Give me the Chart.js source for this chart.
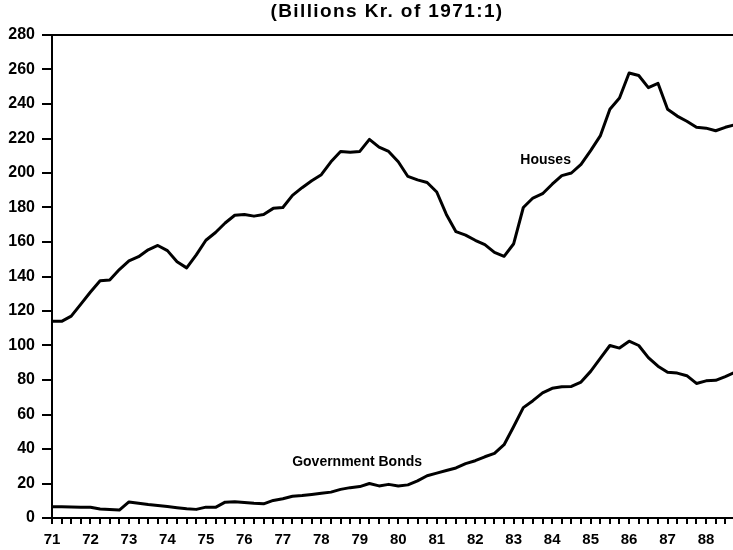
<!DOCTYPE html>
<html>
<head>
<meta charset="utf-8">
<script src="https://cdn.jsdelivr.net/npm/chart.js@4/dist/chart.umd.min.js"></script>
<style>
  body { margin: 0; background: #fff; }
  #wrap { width: 733px; height: 550px; }
</style>
</head>
<body>
<div id="wrap"><canvas id="myChart" width="733" height="550"></canvas></div>
<script>
// quarterly series, first point is 1971:1
const firstYear = 71;
const houses = [
  114, 114, 117, 124, 131, 137.5, 138, 144,
  149, 151.5, 155.5, 158, 155, 148.5, 145, 152.5,
  161, 165.5, 171, 175.5, 176, 175, 176, 179.5,
  180, 187, 191.5, 195.5, 199, 206.5, 212.5, 212,
  212.5, 219.5, 215, 212.5, 206.5, 198, 196, 194.5,
  189, 176, 166, 164, 161, 158.5, 154, 151.7,
  159, 180, 185.5, 188, 193.5, 198.5, 200, 205,
  213, 221.5, 237, 243.5, 258, 256.5, 249.5, 252,
  237, 233, 230, 226.5, 226, 224.5, 226.5, 228
];
const govBonds = [
  6.5, 6.5, 6.4, 6.3, 6.2, 5.2, 4.9, 4.6,
  9.3, 8.6, 7.8, 7.2, 6.6, 6.0, 5.3, 5.0,
  6.3, 6.2, 9.2, 9.4, 9.0, 8.5, 8.2, 10.2,
  11.2, 12.6, 13.0, 13.6, 14.3, 15.0, 16.6, 17.6,
  18.2, 20.0, 18.6, 19.5, 18.6, 19.2, 21.5, 24.5,
  26, 27.5, 29, 31.5, 33.2, 35.5, 37.5, 42.5,
  53, 64, 68, 72.5, 75.2, 76.1, 76.3, 78.8,
  85, 92.5, 100, 98.5, 102.5, 100, 93, 88,
  84.5, 84, 82.5, 78, 79.5, 79.8, 82, 84.5
];
const yTicks = [0, 20, 40, 60, 80, 100, 120, 140, 160, 180, 200, 220, 240, 260, 280];
const seriesLabels = [
  { text: 'Houses', x: 83.83, y: 207.5 },
  { text: 'Government Bonds', x: 78.93, y: 32.3 }
];

const toPoints = arr => arr.map((v, i) => ({ x: firstYear + i / 4, y: v }));
const font = '"Liberation Sans", Arial, sans-serif';

// title and in-plot labels
const textPlugin = {
  id: 'texts',
  afterDraw(chart) {
    const c = chart.ctx, xs = chart.scales.x, ys = chart.scales.y;
    c.save();
    c.fillStyle = '#000';
    c.textAlign = 'center';
    c.textBaseline = 'middle';
    c.font = 'bold 19px ' + font;
    c.letterSpacing = '1.4px';
    c.fillText('(Billions Kr. of 1971:1)', 387, 12);
    c.letterSpacing = '0px';
    c.font = 'bold 14px ' + font;
    seriesLabels.forEach(l => {
      c.fillText(l.text, xs.getPixelForValue(l.x), ys.getPixelForValue(l.y));
    });
    c.restore();
  }
};

new Chart(document.getElementById('myChart'), {
  type: 'line',
  data: {
    datasets: [
      { label: 'Houses', data: toPoints(houses) },
      { label: 'Government Bonds', data: toPoints(govBonds) }
    ]
  },
  options: {
    responsive: false,
    animation: false,
    layout: { padding: { top: 35, right: 0, left: 0, bottom: 0 } },
    elements: {
      line: { borderColor: '#000', borderWidth: 3, tension: 0, borderJoinStyle: 'round', borderCapStyle: 'round' },
      point: { radius: 0 }
    },
    plugins: {
      legend: { display: false },
      tooltip: { enabled: false }
    },
    scales: {
      x: {
        type: 'linear',
        min: 71,
        max: 88.7,
        afterFit: s => { s.height = 32; },
        border: { color: '#000', width: 2 },
        grid: { drawOnChartArea: false, tickLength: 6, tickColor: '#000', lineWidth: 2 },
        ticks: {
          stepSize: 0.25,
          autoSkip: false,
          maxRotation: 0,
          includeBounds: false,
          padding: 7,
          color: '#000',
          font: { family: font, size: 15, weight: 'bold' },
          callback: v => Number.isInteger(v) ? String(v) : ''
        }
      },
      y: {
        min: 0,
        max: 280,
        afterFit: s => { s.width = 52; },
        afterBuildTicks: s => { s.ticks = yTicks.map(v => ({ value: v })); },
        border: { color: '#000', width: 2 },
        grid: {
          drawOnChartArea: true,
          color: c => c.tick && c.tick.value === 280 ? '#000' : 'rgba(0,0,0,0)',
          tickColor: '#000',
          tickLength: 10,
          lineWidth: 2
        },
        ticks: {
          padding: 7,
          color: '#000',
          font: { family: font, size: 16, weight: 'bold' }
        }
      }
    }
  },
  plugins: [textPlugin]
});
</script>
</body>
</html>
